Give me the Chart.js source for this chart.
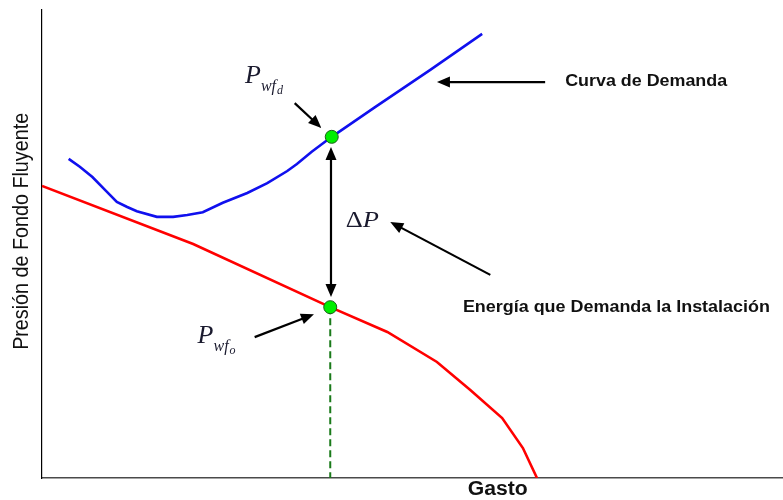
<!DOCTYPE html>
<html lang="es">
<head>
<meta charset="UTF-8">
<title>Curva de Demanda</title>
<style>
    body { margin: 0; background: #fff; }
    #wrap { width: 783px; height: 500px; }
</style>
</head>
<body>
<div id="wrap"><canvas id="grafica" width="783" height="500"></canvas></div>
<script src="https://cdn.jsdelivr.net/npm/chart.js"></script>
<script>
    // unidades relativas (0-100) en ambos ejes
    const demandaGasto   = [3.6, 5.1, 6.8, 8.8, 10.1, 11.5, 12.8, 15.5, 17.7, 19.6, 21.7, 24.4, 27.7, 30.4, 33.1, 34.4, 36.4, 39.1, 44.9, 52.4, 59.4];
    const demandaPresion = [68.2, 66.5, 64.3, 61.1, 59.0, 57.9, 57.0, 55.8, 55.8, 56.2, 56.8, 58.8, 60.9, 63.0, 65.6, 67.1, 69.7, 72.9, 79.2, 87.2, 94.9];

    const ofertaGasto   = [0, 20.4, 38.9, 46.6, 53.3, 57.8, 62.1, 64.9, 66.8];
    const ofertaPresion = [62.4, 50.0, 36.5, 31.2, 24.8, 18.8, 12.8, 6.4, 0];

    // Pwf_d y Pwf_o
    const puntosGasto   = [39.1, 38.9];
    const puntosPresion = [72.9, 36.5];

    const guiaGasto   = [38.9, 38.9];
    const guiaPresion = [36.5, 0];

    // flechas: desde -> hasta
    const flechaDesdeX = [34.1, 39.0, 67.9, 60.5, 28.7];
    const flechaDesdeY = [80.1, 70.7, 84.6, 43.4, 30.1];
    const flechaHastaX = [37.7, 39.0, 53.3, 47.0, 36.7];
    const flechaHastaY = [74.8, 38.7, 84.6, 54.7, 35.0];
    const flechaDoble  = [false, true, false, false, false];

    const etiquetas = ['Curva de Demanda', 'Energía que Demanda la Instalación'];
    const etiquetaX = [70.6, 56.8];
    const etiquetaY = [84.6, 36.5];

    const tituloX = 'Gasto';
    const tituloY = 'Presión de Fondo Fluyente';

    function serie(xs, ys) {
        return xs.map((x, i) => ({ x: x, y: ys[i] }));
    }

    function textoAjustado(ctx, texto, x, y, ancho) {
        const w = ctx.measureText(texto).width;
        ctx.save();
        ctx.translate(x, y);
        ctx.scale(ancho / w, 1);
        ctx.fillText(texto, 0, 0);
        ctx.restore();
    }

    function dibujarFlecha(ctx, x1, y1, x2, y2, doble) {
        const ang = Math.atan2(y2 - y1, x2 - x1);
        const largo = 13, media = 5.5;
        const cabeza = (tx, ty, a) => {
            ctx.beginPath();
            ctx.moveTo(tx, ty);
            ctx.lineTo(tx - largo * Math.cos(a) + media * Math.sin(a), ty - largo * Math.sin(a) - media * Math.cos(a));
            ctx.lineTo(tx - largo * Math.cos(a) - media * Math.sin(a), ty - largo * Math.sin(a) + media * Math.cos(a));
            ctx.closePath();
            ctx.fill();
        };
        const sx = doble ? x1 + (largo - 2) * Math.cos(ang) : x1;
        const sy = doble ? y1 + (largo - 2) * Math.sin(ang) : y1;
        ctx.beginPath();
        ctx.moveTo(sx, sy);
        ctx.lineTo(x2 - (largo - 2) * Math.cos(ang), y2 - (largo - 2) * Math.sin(ang));
        ctx.stroke();
        cabeza(x2, y2, ang);
        if (doble) cabeza(x1, y1, ang + Math.PI);
    }

    // P con subindices (wf_d, wf_o)
    function presionSub(ctx, x, y, sub) {
        ctx.font = 'italic 26px "Liberation Serif", serif';
        ctx.fillText('P', x, y);
        let px = x + ctx.measureText('P').width;
        ctx.font = 'italic 16px "Liberation Serif", serif';
        ctx.fillText('wf', px, y + 8);
        px += ctx.measureText('wf').width + 1;
        ctx.font = 'italic 12px "Liberation Serif", serif';
        ctx.fillText(sub, px, y + 11);
    }

    const anotaciones = {
        id: 'anotaciones',
        afterDatasetsDraw(chart) {
            const ctx = chart.ctx;
            const sx = chart.scales.x, sy = chart.scales.y;
            const area = chart.chartArea;
            ctx.save();

            ctx.strokeStyle = '#000';
            ctx.fillStyle = '#000';
            ctx.lineWidth = 2.2;
            for (let i = 0; i < flechaDesdeX.length; i++) {
                dibujarFlecha(ctx,
                    sx.getPixelForValue(flechaDesdeX[i]), sy.getPixelForValue(flechaDesdeY[i]),
                    sx.getPixelForValue(flechaHastaX[i]), sy.getPixelForValue(flechaHastaY[i]),
                    flechaDoble[i]);
            }

            ctx.fillStyle = '#111';
            ctx.textBaseline = 'middle';
            ctx.textAlign = 'left';
            ctx.font = 'bold 16px "Liberation Sans", Arial, sans-serif';
            textoAjustado(ctx, etiquetas[0], sx.getPixelForValue(etiquetaX[0]), sy.getPixelForValue(etiquetaY[0]), 162);
            textoAjustado(ctx, etiquetas[1], sx.getPixelForValue(etiquetaX[1]), sy.getPixelForValue(etiquetaY[1]), 307);

            // titulos de ejes
            ctx.font = 'bold 20px "Liberation Sans", Arial, sans-serif';
            ctx.textAlign = 'center';
            textoAjustado(ctx, tituloX, sx.getPixelForValue(61.5), area.bottom + 11, 60);
            ctx.save();
            ctx.translate(area.left - 20, sy.getPixelForValue(52.7));
            ctx.rotate(-Math.PI / 2);
            ctx.font = '22px "Liberation Sans", Arial, sans-serif';
            textoAjustado(ctx, tituloY, 0, 0, 237);
            ctx.restore();

            // simbolos
            ctx.textAlign = 'left';
            ctx.textBaseline = 'alphabetic';
            ctx.fillStyle = '#1a1a2e';
            presionSub(ctx, sx.getPixelForValue(27.4), sy.getPixelForValue(84.4), 'd');
            presionSub(ctx, sx.getPixelForValue(21.0), sy.getPixelForValue(28.8), 'o');

            ctx.save();
            ctx.translate(sx.getPixelForValue(41.0), sy.getPixelForValue(53.6));
            ctx.scale(1.15, 1);
            ctx.font = '23px "Liberation Serif", serif';
            ctx.fillText('Δ', 0, 0);
            const dw = ctx.measureText('Δ').width;
            ctx.font = 'italic 23px "Liberation Serif", serif';
            ctx.fillText('P', dw, 0);
            ctx.restore();

            ctx.restore();
        }
    };

    new Chart(document.getElementById('grafica'), {
        type: 'scatter',
        data: {
            datasets: [
                {
                    label: 'Puntos',
                    data: serie(puntosGasto, puntosPresion),
                    pointRadius: 6.5,
                    pointBackgroundColor: '#00ee00',
                    pointBorderColor: '#1b5e1b',
                    pointBorderWidth: 1,
                    showLine: false
                },
                {
                    label: 'Guia',
                    data: serie(guiaGasto, guiaPresion),
                    showLine: true,
                    borderColor: '#1a7a1a',
                    borderWidth: 2,
                    borderDash: [7, 4],
                    pointRadius: 0
                },
                {
                    label: 'Curva de Demanda',
                    data: serie(demandaGasto, demandaPresion),
                    showLine: true,
                    borderColor: '#1010ee',
                    borderWidth: 2.6,
                    pointRadius: 0,
                    tension: 0
                },
                {
                    label: 'IPR',
                    data: serie(ofertaGasto, ofertaPresion),
                    showLine: true,
                    borderColor: '#ff0000',
                    borderWidth: 2.6,
                    pointRadius: 0,
                    tension: 0
                }
            ]
        },
        options: {
            responsive: false,
            animation: false,
            layout: { autoPadding: false, padding: { left: 42, top: 10, right: 0, bottom: 22 } },
            plugins: {
                legend: { display: false },
                tooltip: { enabled: false }
            },
            scales: {
                x: {
                    type: 'linear', min: 0, max: 100,
                    ticks: { display: false },
                    grid: { display: false, drawTicks: false },
                    border: { display: true, color: '#4a4a4a', width: 1.6 }
                },
                y: {
                    type: 'linear', min: 0, max: 100,
                    ticks: { display: false },
                    grid: { display: false, drawTicks: false },
                    border: { display: true, color: '#000', width: 1.2 }
                }
            }
        },
        plugins: [anotaciones]
    });
</script>
</body>
</html>
